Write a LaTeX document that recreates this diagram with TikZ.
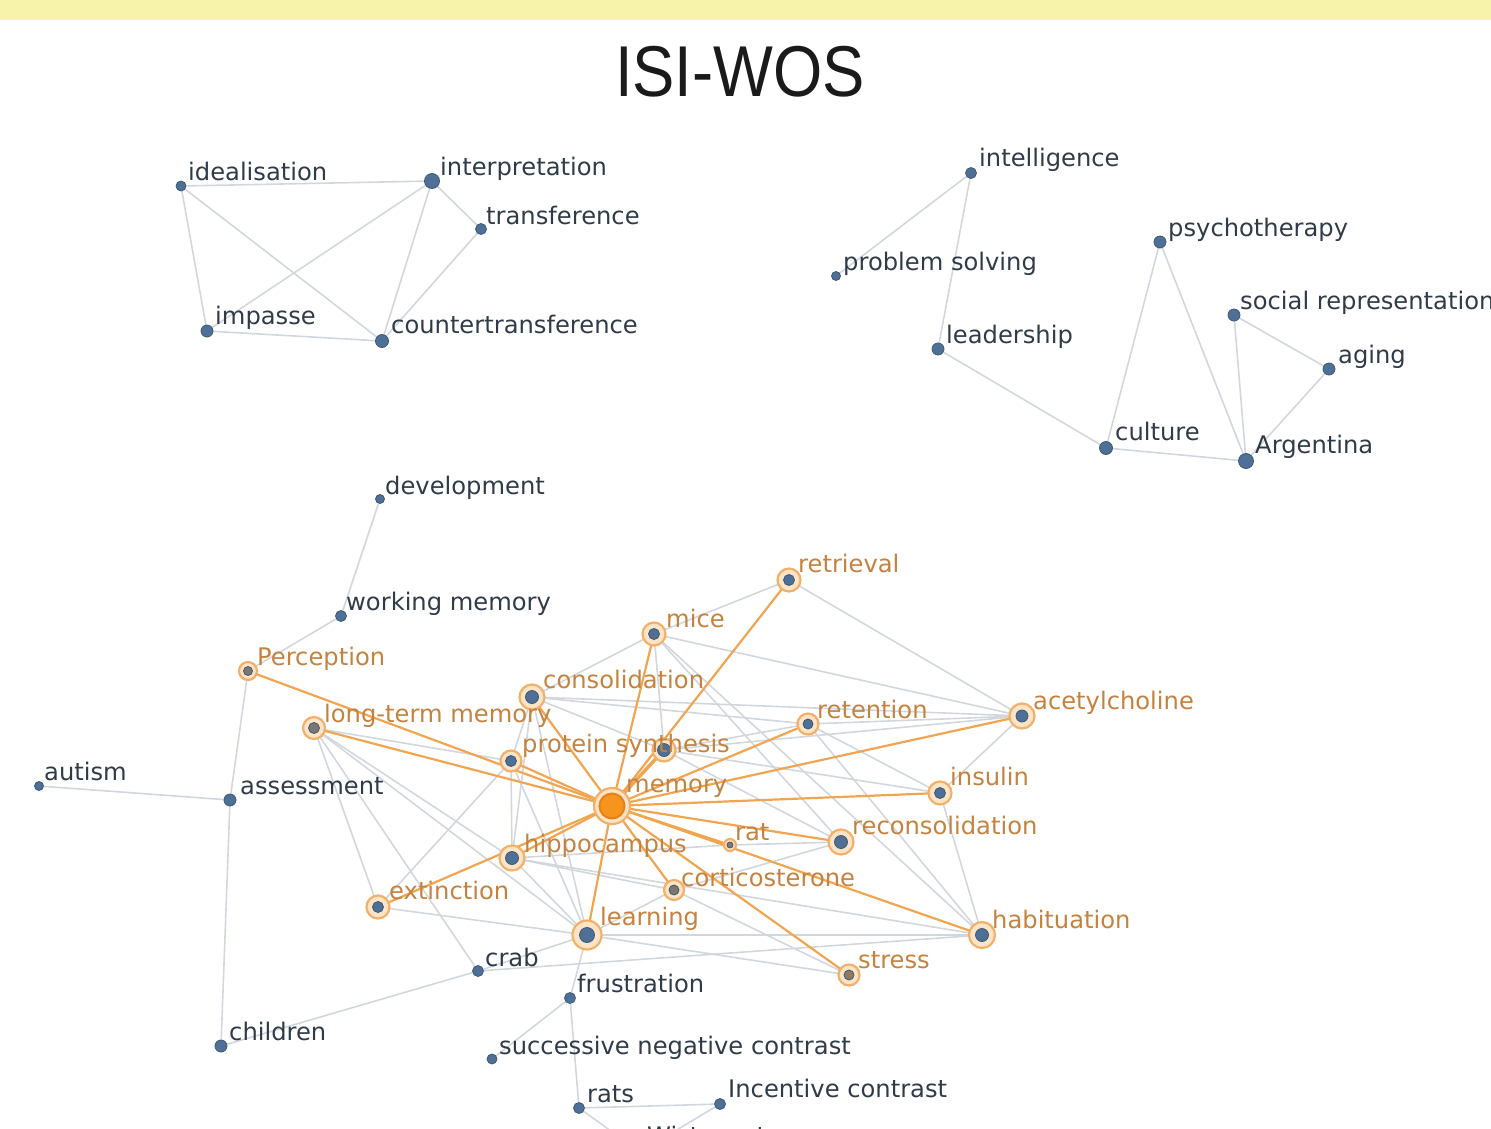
\documentclass[tikz,border=0pt]{standalone}
\usepackage{fontspec}
\setmainfont{DejaVu Sans}
\newfontfamily\titlefont{Liberation Sans}
\usetikzlibrary{backgrounds}
\definecolor{band}{HTML}{F8F3AA}
\definecolor{egray}{HTML}{D2D7DE}
\definecolor{eorange}{HTML}{F2A550}
\definecolor{dotblue}{HTML}{4F7096}
\definecolor{dotline}{HTML}{3E5873}
\definecolor{ringo}{HTML}{F2B06A}
\definecolor{halo}{HTML}{FCE4C6}
\definecolor{labdark}{HTML}{2F3B48}
\definecolor{labor}{HTML}{C4823E}
\definecolor{memfill}{HTML}{F7941D}
\definecolor{memring}{HTML}{E5801A}
\definecolor{titlecol}{HTML}{1A1A1A}
\tikzset{
  bdot/.style={circle, fill=dotblue, draw=dotline, line width=0.8pt, inner sep=0pt, minimum size=#1},
  ringn/.style={circle, fill=halo, draw=ringo, line width=2.2pt, inner sep=0pt, minimum size=#1},
  lab/.style={anchor=base west, inner sep=0pt, text=labdark, font=\fontsize{24.2}{27}\selectfont},
  olab/.style={lab, text=labor},
  ge/.style={draw=egray, line width=1.6pt},
  oe/.style={draw=eorange, line width=2.2pt},
}
\begin{document}
\begin{tikzpicture}[x=1pt,y=-1pt]
\useasboundingbox (0,0) rectangle (1491,1128);
\clip (0,0) rectangle (1491,1128);
% ---------- header ----------
\fill[band] (0,0) rectangle (1491,20);
\node[text=titlecol, font=\titlefont\fontsize{72}{80}\selectfont, inner sep=0pt] (title) at (740,72) {\scalebox{0.88}[1]{ISI-WOS}};

% ---------- top-left cluster ----------
\node[bdot=10pt] (idealisation) at (181,186) {};
\node[bdot=15pt] (interpretation) at (432,181) {};
\node[bdot=11pt] (transference) at (481,229) {};
\node[bdot=12pt] (impasse) at (207,331) {};
\node[bdot=13pt] (countertransference) at (382,341) {};
\node[lab, xshift=7pt, yshift=6pt] (l-idealisation) at (idealisation) {idealisation};
\node[lab, xshift=8pt, yshift=6pt] (l-interpretation) at (interpretation) {interpretation};
\node[lab, xshift=5pt, yshift=5pt] (l-transference) at (transference) {transference};
\node[lab, xshift=8pt, yshift=7pt] (l-impasse) at (impasse) {impasse};
\node[lab, xshift=9pt, yshift=8pt] (l-countertransference) at (countertransference) {countertransference};

% ---------- top-right cluster ----------
\node[bdot=11pt] (intelligence) at (971,173) {};
\node[bdot=9pt] (problemsolving) at (836,276) {};
\node[bdot=12pt] (leadership) at (938,349) {};
\node[bdot=12pt] (psychotherapy) at (1160,242) {};
\node[bdot=12pt] (socialrep) at (1234,315) {};
\node[bdot=12pt] (aging) at (1329,369) {};
\node[bdot=13pt] (culture) at (1106,448) {};
\node[bdot=15pt] (argentina) at (1246,461) {};
\node[lab, xshift=8pt, yshift=7pt] (l-intelligence) at (intelligence) {intelligence};
\node[lab, xshift=7pt, yshift=6pt] (l-problemsolving) at (problemsolving) {problem solving};
\node[lab, xshift=8pt, yshift=6pt] (l-leadership) at (leadership) {leadership};
\node[lab, xshift=8pt, yshift=6pt] (l-psychotherapy) at (psychotherapy) {psychotherapy};
\node[lab, xshift=6pt, yshift=6pt] (l-socialrep) at (socialrep) {social representation};
\node[lab, xshift=9pt, yshift=6pt] (l-aging) at (aging) {aging};
\node[lab, xshift=9pt, yshift=8pt] (l-culture) at (culture) {culture};
\node[lab, xshift=9pt, yshift=8pt] (l-argentina) at (argentina) {Argentina};

% ---------- lower cluster: plain nodes ----------
\node[bdot=9pt] (development) at (380,499) {};
\node[bdot=11pt] (workingmemory) at (341,616) {};
\node[bdot=9pt] (autism) at (39,786) {};
\node[bdot=12pt] (assessment) at (230,800) {};
\node[bdot=12pt] (children) at (221,1046) {};
\node[bdot=11pt] (crab) at (478,971) {};
\node[bdot=11pt] (frustration) at (570,998) {};
\node[bdot=10pt] (snc) at (492,1059) {};
\node[bdot=11pt] (rats) at (579,1108) {};
\node[bdot=11pt] (incentive) at (720,1104) {};
\node[bdot=11pt] (wistar) at (640,1152) {};

% ---------- lower cluster: highlighted rings ----------
\node[ringn=18pt] (r-perception) at (248,671) {};
\node[ringn=22pt] (r-ltm) at (314,728) {};
\node[ringn=25pt] (r-cons) at (532,697) {};
\node[ringn=23pt] (r-mice) at (654,634) {};
\node[ringn=23pt] (r-retrieval) at (789,580) {};
\node[ringn=21pt] (r-psa) at (511,761) {};
\node[ringn=23pt] (r-psb) at (664,750) {};
\node[ringn=25pt] (r-hippo) at (512,858) {};
\node[ringn=12pt] (r-rat) at (730,845) {};
\node[ringn=21pt] (r-retention) at (808,724) {};
\node[ringn=25pt] (r-acetyl) at (1022,716) {};
\node[ringn=23pt] (r-insulin) at (940,793) {};
\node[ringn=25pt] (r-recons) at (841,842) {};
\node[ringn=20pt] (r-cortico) at (674,890) {};
\node[ringn=23pt] (r-extinction) at (378,907) {};
\node[ringn=29pt] (r-learning) at (587,935) {};
\node[ringn=26pt] (r-habit) at (982,935) {};
\node[ringn=21pt] (r-stress) at (849,975) {};
\node[ringn=36pt] (r-memory) at (612,806) {};

\node[bdot=9pt, fill=dotblue!55!brown] (perception) at (248,671) {};
\node[bdot=11pt, fill=dotblue!60!brown] (ltm) at (314,728) {};
\node[bdot=13pt] (cons) at (532,697) {};
\node[bdot=11pt] (mice) at (654,634) {};
\node[bdot=11pt] (retrieval) at (789,580) {};
\node[bdot=11pt] (psa) at (511,761) {};
\node[bdot=13pt] (psb) at (664,750) {};
\node[bdot=13pt] (hippocampus) at (512,858) {};
\node[bdot=6pt, fill=dotblue!50!brown] (rat) at (730,845) {};
\node[bdot=10pt] (retention) at (808,724) {};
\node[bdot=12pt] (acetylcholine) at (1022,716) {};
\node[bdot=11pt] (insulin) at (940,793) {};
\node[bdot=13pt] (reconsolidation) at (841,842) {};
\node[bdot=10pt, fill=dotblue!60!brown] (corticosterone) at (674,890) {};
\node[bdot=11pt] (extinction) at (378,907) {};
\node[bdot=15pt] (learning) at (587,935) {};
\node[bdot=13pt] (habituation) at (982,935) {};
\node[bdot=10pt, fill=dotblue!40!brown] (stress) at (849,975) {};
\node[circle, fill=memfill, draw=memring, line width=2pt, inner sep=0pt, minimum size=25pt] (memory) at (612,806) {};

% ---------- lower cluster labels ----------
\node[lab, xshift=5pt, yshift=5pt] (l-development) at (development) {development};
\node[lab, xshift=5pt, yshift=6pt] (l-workingmemory) at (workingmemory) {working memory};
\node[lab, xshift=5pt, yshift=6pt] (l-autism) at (autism) {autism};
\node[lab, xshift=10pt, yshift=6pt] (l-assessment) at (assessment) {assessment};
\node[lab, xshift=8pt, yshift=6pt] (l-children) at (children) {children};
\node[lab, xshift=7pt, yshift=5pt] (l-crab) at (crab) {crab};
\node[lab, xshift=7pt, yshift=6pt] (l-frustration) at (frustration) {frustration};
\node[lab, xshift=7pt, yshift=5pt] (l-snc) at (snc) {successive negative contrast};
\node[lab, xshift=8pt, yshift=6pt] (l-rats) at (rats) {rats};
\node[lab, xshift=8pt, yshift=7pt] (l-incentive) at (incentive) {Incentive contrast};
\node[lab, xshift=7pt, yshift=8pt] (l-wistar) at (wistar) {Wistar rats};

\node[olab, xshift=9pt, yshift=6pt] (l-perception) at (perception) {Perception};
\node[olab, xshift=10pt, yshift=6pt] (l-ltm) at (ltm) {long-term memory};
\node[olab, xshift=11pt, yshift=9pt] (l-cons) at (cons) {consolidation};
\node[olab, xshift=12pt, yshift=7pt] (l-mice) at (mice) {mice};
\node[olab, xshift=9pt, yshift=8pt] (l-retrieval) at (retrieval) {retrieval};
\node[olab, xshift=11pt, yshift=9pt] (l-psa) at (psa) {protein synthesis};
\node[olab, xshift=14pt, yshift=14pt] (l-memory) at (memory) {memory};
\node[olab, xshift=12pt, yshift=6pt] (l-hippo) at (hippocampus) {hippocampus};
\node[olab, xshift=5pt, yshift=5pt] (l-rat) at (rat) {rat};
\node[olab, xshift=9pt, yshift=6pt] (l-retention) at (retention) {retention};
\node[olab, xshift=11pt, yshift=7pt] (l-acetyl) at (acetylcholine) {acetylcholine};
\node[olab, xshift=10pt, yshift=8pt] (l-insulin) at (insulin) {insulin};
\node[olab, xshift=11pt, yshift=8pt] (l-recons) at (reconsolidation) {reconsolidation};
\node[olab, xshift=7pt, yshift=4pt] (l-cortico) at (corticosterone) {corticosterone};
\node[olab, xshift=11pt, yshift=8pt] (l-extinction) at (extinction) {extinction};
\node[olab, xshift=13pt, yshift=10pt] (l-learning) at (learning) {learning};
\node[olab, xshift=10pt, yshift=7pt] (l-habit) at (habituation) {habituation};
\node[olab, xshift=9pt, yshift=7pt] (l-stress) at (stress) {stress};

% ---------- edges ----------
\begin{scope}[on background layer]
% top-left
\draw[ge] (idealisation) -- (interpretation);
\draw[ge] (idealisation) -- (impasse);
\draw[ge] (idealisation) -- (countertransference);
\draw[ge] (interpretation) -- (impasse);
\draw[ge] (interpretation) -- (countertransference);
\draw[ge] (interpretation) -- (transference);
\draw[ge] (transference) -- (countertransference);
\draw[ge] (impasse) -- (countertransference);
% top-right
\draw[ge] (intelligence) -- (problemsolving);
\draw[ge] (intelligence) -- (leadership);
\draw[ge] (leadership) -- (culture);
\draw[ge] (psychotherapy) -- (culture);
\draw[ge] (psychotherapy) -- (argentina);
\draw[ge] (culture) -- (argentina);
\draw[ge] (socialrep) -- (argentina);
\draw[ge] (socialrep) -- (aging);
\draw[ge] (aging) -- (argentina);
% lower: periphery
\draw[ge] (development) -- (workingmemory);
\draw[ge] (workingmemory) -- (perception);
\draw[ge] (perception) -- (assessment);
\draw[ge] (autism) -- (assessment);
\draw[ge] (assessment) -- (children);
\draw[ge] (children) -- (crab);
\draw[ge] (crab) -- (learning);
\draw[ge] (crab) -- (habituation);
\draw[ge] (learning) -- (frustration);
\draw[ge] (frustration) -- (snc);
\draw[ge] (frustration) -- (rats);
\draw[ge] (rats) -- (incentive);
\draw[ge] (rats) -- (wistar);
\draw[ge] (incentive) -- (wistar);
% lower: core gray
\draw[ge] (ltm) -- (extinction);
\draw[ge] (ltm) -- (crab);
\draw[ge] (ltm) -- (hippocampus);
\draw[ge] (ltm) -- (learning);
\draw[ge] (ltm) -- (psa);
\draw[ge] (cons) -- (mice);
\draw[ge] (cons) -- (acetylcholine);
\draw[ge] (cons) -- (retention);
\draw[ge] (cons) -- (psa);
\draw[ge] (cons) -- (psb);
\draw[ge] (cons) -- (hippocampus);
\draw[ge] (cons) -- (learning);
\draw[ge] (mice) -- (retrieval);
\draw[ge] (mice) -- (acetylcholine);
\draw[ge] (mice) -- (psb);
\draw[ge] (mice) -- (reconsolidation);
\draw[ge] (mice) -- (habituation);
\draw[ge] (retrieval) -- (acetylcholine);
\draw[ge] (retention) -- (acetylcholine);
\draw[ge] (retention) -- (insulin);
\draw[ge] (retention) -- (habituation);
\draw[ge] (retention) -- (psb);
\draw[ge] (psb) -- (acetylcholine);
\draw[ge] (psb) -- (insulin);
\draw[ge] (psb) -- (reconsolidation);
\draw[ge] (acetylcholine) -- (insulin);
\draw[ge] (insulin) -- (habituation);
\draw[ge] (reconsolidation) -- (rat);
\draw[ge] (reconsolidation) -- (corticosterone);
\draw[ge] (psa) -- (extinction);
\draw[ge] (psa) -- (hippocampus);
\draw[ge] (psa) -- (learning);
\draw[ge] (hippocampus) -- (learning);
\draw[ge] (hippocampus) -- (rat);
\draw[ge] (hippocampus) -- (habituation);
\draw[ge] (extinction) -- (learning);
\draw[ge] (corticosterone) -- (learning);
\draw[ge] (corticosterone) -- (stress);
\draw[ge] (corticosterone) -- (hippocampus);
\draw[ge] (learning) -- (habituation);
\draw[ge] (learning) -- (stress);
% lower: orange edges from memory
\foreach \t in {perception, ltm, cons, psa, mice, retrieval, retention, acetylcholine, insulin, reconsolidation, rat, corticosterone, habituation, stress, learning, hippocampus, extinction}
  \draw[oe] (memory) -- (\t);
\draw[oe, line width=3.5pt] (memory) -- (psb);
\end{scope}
\end{tikzpicture}
\end{document}
